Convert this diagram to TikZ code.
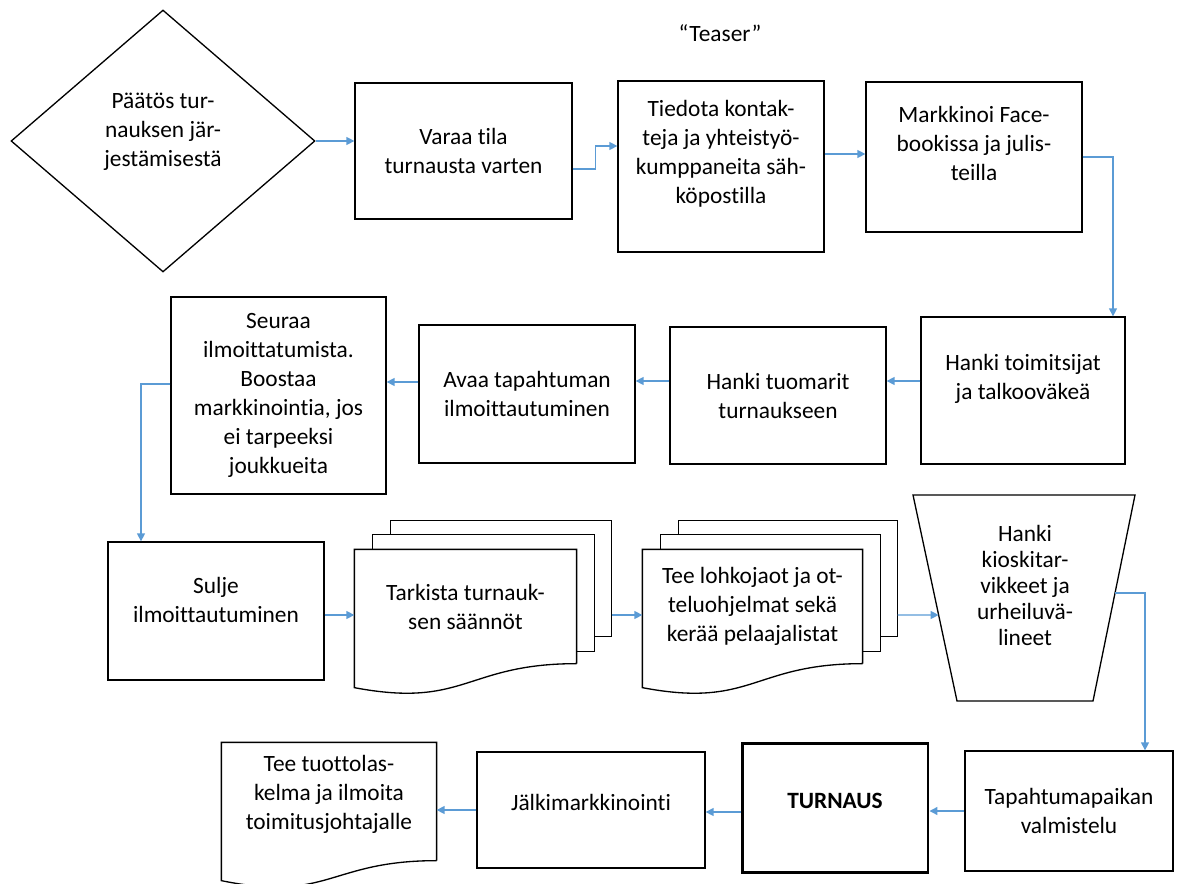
\documentclass[tikz,border=0pt]{standalone}
\usepackage{fontspec}
\setmainfont{Carlito}[Ligatures=NoCommon]
\usetikzlibrary{arrows.meta,calc,shapes.geometric}
\definecolor{linkblue}{HTML}{5B9BD5}
\tikzset{every picture/.style={line width=0.75pt}}

\begin{document}
\begin{tikzpicture}[x=0.02cm,y=-0.02cm,
		every node/.style={font=\fontsize{13.3}{16.5}\selectfont,align=center},
		box/.style={draw,rectangle,inner sep=2pt},
		doc/.style={rectangle,inner sep=2pt},
		conn/.style={linkblue,-{Triangle[length=4.5pt,width=4.5pt]}}]
	\useasboundingbox (0,0) rectangle (1179,884);
	\node[draw,diamond,minimum width=6.08cm,minimum height=5.24cm,inner sep=0pt,text depth=13pt] (decide) at (163,141) {Päätös tur-\\nauksen jär-\\jestämisestä};
	\node[box,minimum width=4.34cm,minimum height=2.72cm] (varaa) at (463.5,151) {Varaa tila\\turnausta varten};
	\node[box,minimum width=4.12cm,minimum height=3.42cm,text depth=17pt] (tiedota) at (721,166.5) {Tiedota kontak-\\teja ja yhteistyö-\\kumppaneita säh-\\köpostilla};
	\node[box,minimum width=4.32cm,minimum height=3cm,text depth=16pt] (markkinoi) at (974,157) {Markkinoi Face-\\bookissa ja julis-\\teilla};
	\node (teaser) at (720,33) {“Teaser”};
	\node[box,minimum width=4.08cm,minimum height=2.94cm,text depth=16pt] (toimitsijat) at (1023,390.5) {Hanki toimitsijat\\ja talkooväkeä};
	\node[box,minimum width=4.32cm,minimum height=2.74cm] (tuomarit) at (778,395.5) {Hanki tuomarit\\turnaukseen};
	\node[box,minimum width=4.32cm,minimum height=2.76cm] (avaa) at (527,394) {Avaa tapahtuman\\ilmoittautuminen};
	\node[box,minimum width=4.3cm,minimum height=3.94cm] (seuraa) at (278.5,395.5) {Seuraa\\ilmoittatumista.\\Boostaa\\markkinointia, jos\\ei tarpeeksi\\joukkueita};
	\node[box,minimum width=4.32cm,minimum height=2.76cm,text depth=13pt] (sulje) at (216,611) {Sulje\\ilmoittautuminen};
	\node[doc,minimum width=4.42cm,minimum height=2.26cm] (tarkista) at (465.5,606.5) {Tarkista turnauk-\\sen säännöt};
	\node[doc,minimum width=4.38cm,minimum height=2.26cm] (lohkot) at (752.5,606.5) {Tee lohkojaot ja ot-\\teluohjelmat sekä\\kerää pelaajalistat};
	\node[font=\fontsize{13.3}{14.8}\selectfont] (kioski) at (1025,585) {Hanki\\kioskitar-\\vikkeet ja\\urheiluvä-\\lineet};
	\node[box,minimum width=4.16cm,minimum height=2.4cm] (paikka) at (1069,811) {Tapahtumapaikan\\valmistelu};
	\node[box,line width=1.7pt,minimum width=3.72cm,minimum height=2.6cm,text depth=8pt,font=\fontsize{13.3}{16.5}\selectfont\bfseries] (turnaus) at (835,808) {TURNAUS};
	\node[box,minimum width=4.56cm,minimum height=2.32cm,text depth=9pt] (jalki) at (591,810) {Jälkimarkkinointi};
	\node[doc,minimum width=4.28cm,minimum height=2.34cm,text depth=10pt] (tuotto) at (329,801.5) {Tee tuottolas-\\kelma ja ilmoita\\toimitusjohtajalle};

	\draw ($(tarkista.north west)+(36,-15)$) -- ++(0,-14) -| ($(tarkista.south east)+(35,-27)$) -- ++(-17,0);
	\draw ($(tarkista.north west)+(18,0)$) -- ++(0,-15) -| ($(tarkista.south east)+(18,-12)$) -- ++(-18,0);
	\draw (tarkista.south east) -- (tarkista.north east) -- (tarkista.north west) -- ($(tarkista.south west)+(0,24)$) .. controls ($(tarkista.south)+(0,45)$) and (tarkista.south) .. (tarkista.south east);
	\draw ($(lohkot.north west)+(36,-15)$) -- ++(0,-14) -| ($(lohkot.south east)+(35,-27)$) -- ++(-17,0);
	\draw ($(lohkot.north west)+(18,0)$) -- ++(0,-15) -| ($(lohkot.south east)+(18,-12)$) -- ++(-18,0);
	\draw (lohkot.south east) -- (lohkot.north east) -- (lohkot.north west) -- ($(lohkot.south west)+(0,24)$) .. controls ($(lohkot.south)+(0,45)$) and (lohkot.south) .. (lohkot.south east);
	\draw (tuotto.south east) -- (tuotto.north east) -- (tuotto.north west) -- ($(tuotto.south west)+(0,20)$) .. controls ($(tuotto.south)+(0,42)$) and (tuotto.south) .. (tuotto.south east);
	\coordinate (ktl) at (913,495);
	\coordinate (ktr) at (1135,495);
	\coordinate (kbr) at (1093,701);
	\coordinate (kbl) at (957,701);
	\draw (ktl) -- (ktr) -- (kbr) -- (kbl) -- cycle;
	\coordinate (kin) at ($(ktl)!0.5825!(kbl)$);
	\coordinate (kout) at ($(ktr)!0.476!(kbr)$);

	\draw[conn] (decide.east) -- (decide.east -| varaa.west);
	\draw[conn] ($(varaa.east)+(0,18)$) -- ++(23,0) |- ($(tiedota.west)+(0,-20.5)$);
	\draw[conn] ($(tiedota.east)+(0,-12.5)$) coordinate (tm) -- (tm -| markkinoi.west);
	\draw[conn] (markkinoi.east) -| ($(toimitsijat.north)+(90,0)$);
	\draw[conn] ($(toimitsijat.west)+(0,-9.5)$) coordinate (tt) -- (tt -| tuomarit.east);
	\draw[conn] ($(tuomarit.west)+(0,-14.5)$) coordinate (ta) -- (ta -| avaa.east);
	\draw[conn] ($(avaa.west)+(0,-12)$) coordinate (as) -- (as -| seuraa.east);
	\draw[conn] ($(seuraa.west)+(0,-11.5)$) -| ($(sulje.north)+(-75,0)$);
	\draw[conn] ($(sulje.east)+(0,4)$) coordinate (st) -- (st -| tarkista.west);
	\draw[conn] ($(tarkista.east)+(35,8.5)$) coordinate (tl) -- (tl -| lohkot.west);
	\draw[conn] ($(lohkot.east)+(35,8.5)$) -- (kin);
	\draw[conn] (kout) -| ($(paikka.north)+(76,0)$);
	\draw[conn] (paikka.west) -- (paikka.west -| turnaus.east);
	\draw[conn] ($(turnaus.west)+(0,4)$) coordinate (tj) -- (tj -| jalki.east);
	\draw[conn] (jalki.west) -- (jalki.west -| tuotto.east);
\end{tikzpicture}
\end{document}
